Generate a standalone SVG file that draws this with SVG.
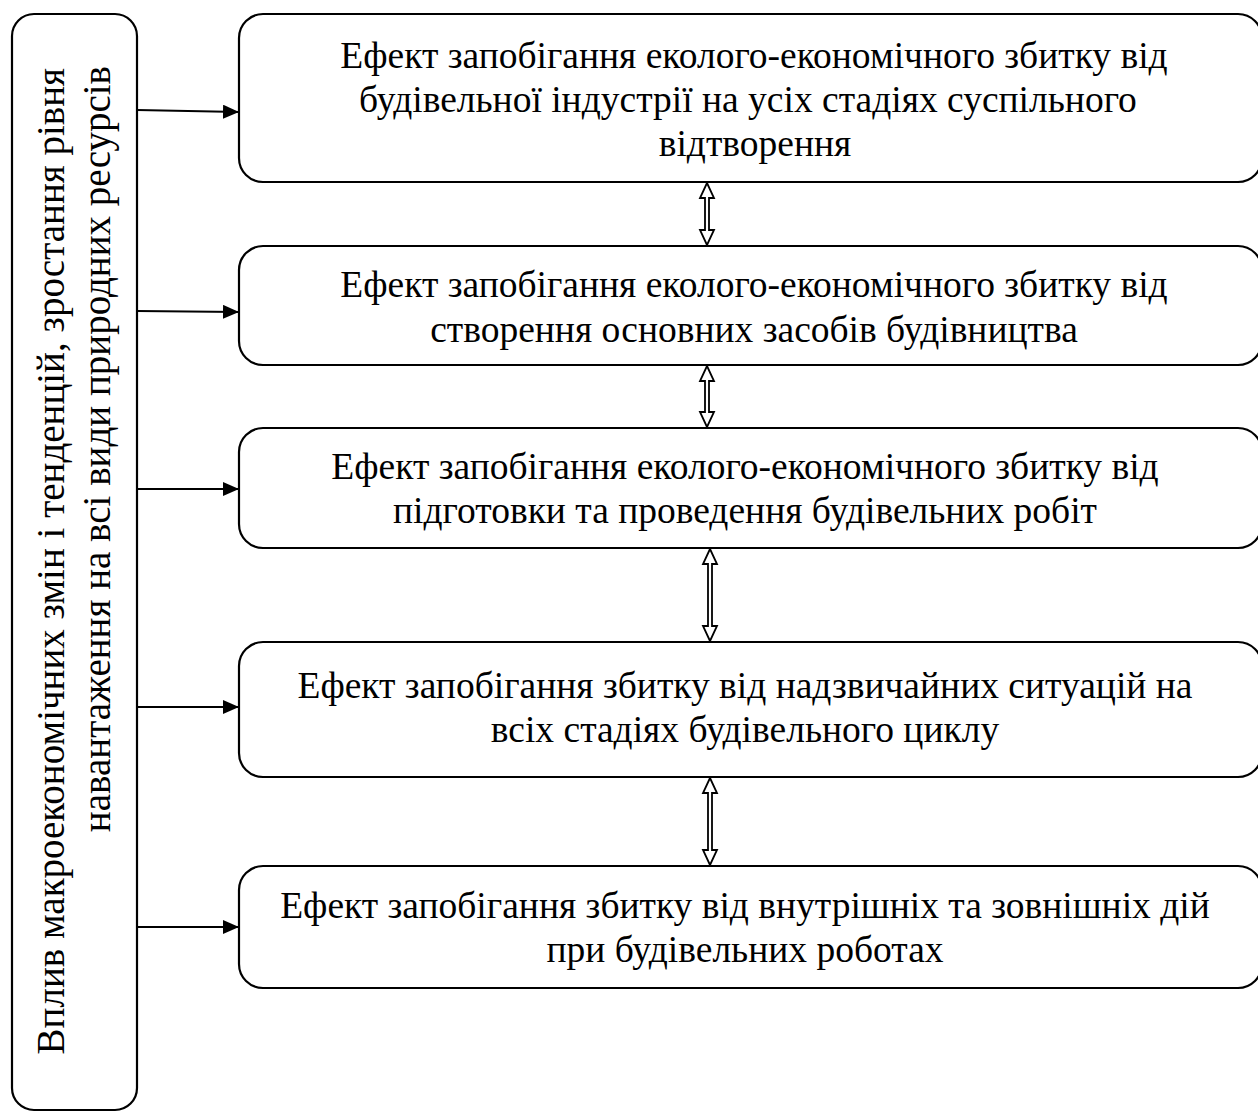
<svg xmlns="http://www.w3.org/2000/svg" width="1258" height="1115" viewBox="0 0 1258 1115">
  <style>
    .box { fill: #ffffff; stroke: #000000; stroke-width: 2.2; }
    .lbl { font-family: "Liberation Serif", "Times New Roman", serif; font-size: 37.5px; fill: #000000; text-anchor: middle; }
    .vlbl { font-family: "Liberation Serif", "Times New Roman", serif; font-size: 39px; fill: #000000; text-anchor: end; }
    .link { stroke: #000000; stroke-width: 2; fill: none; }
    .dbl { fill: #ffffff; stroke: #000000; stroke-width: 1.8; stroke-linejoin: miter; }
  </style>
  <defs>
    <marker id="head" viewBox="0 0 16 14" refX="16" refY="7" markerWidth="16" markerHeight="14" markerUnits="userSpaceOnUse" orient="auto">
      <path d="M0,0 L16,7 L0,14 Z" fill="#000000"/>
    </marker>
  </defs>

  <rect width="1258" height="1115" fill="#ffffff"/>

  <!-- left vertical block, lines set flush to the top edge -->
  <g id="macro">
    <rect class="box" x="12" y="14" width="125" height="1096" rx="22" ry="22"/>
    <text class="vlbl" transform="translate(64,68) rotate(-90)">Вплив макроекономічних змін і тенденцій, зростання рівня</text>
    <text class="vlbl" transform="translate(110,66) rotate(-90)">навантаження на всі види природних ресурсів</text>
  </g>

  <g id="effect1">
    <rect class="box" x="239" y="14" width="1023" height="168" rx="24" ry="24"/>
    <text class="lbl" x="754" y="68">Ефект запобігання еколого-економічного збитку від</text>
    <text class="lbl" x="748" y="112">будівельної індустрії на усіх стадіях суспільного</text>
    <text class="lbl" x="755" y="156">відтворення</text>
  </g>

  <g id="effect2">
    <rect class="box" x="239" y="246" width="1023" height="119" rx="24" ry="24"/>
    <text class="lbl" x="754" y="297">Ефект запобігання еколого-економічного збитку від</text>
    <text class="lbl" x="754" y="342">створення основних засобів будівництва</text>
  </g>

  <g id="effect3">
    <rect class="box" x="239" y="428" width="1023" height="120" rx="24" ry="24"/>
    <text class="lbl" x="745" y="479">Ефект запобігання еколого-економічного збитку від</text>
    <text class="lbl" x="745" y="523">підготовки та проведення будівельних робіт</text>
  </g>

  <g id="effect4">
    <rect class="box" x="239" y="642" width="1023" height="135" rx="24" ry="24"/>
    <text class="lbl" x="745" y="698">Ефект запобігання збитку від надзвичайних ситуацій на</text>
    <text class="lbl" x="745" y="742">всіх стадіях будівельного циклу</text>
  </g>

  <g id="effect5">
    <rect class="box" x="239" y="866" width="1023" height="122" rx="24" ry="24"/>
    <text class="lbl" x="745" y="918">Ефект запобігання збитку від внутрішніх та зовнішніх дій</text>
    <text class="lbl" x="745" y="962">при будівельних роботах</text>
  </g>

  <g id="connectors">
    <!-- arrows from the left block into each effect -->
    <line class="link" x1="137" y1="110" x2="239" y2="112" marker-end="url(#head)"/>
    <line class="link" x1="137" y1="311" x2="239" y2="312" marker-end="url(#head)"/>
    <line class="link" x1="137" y1="489" x2="239" y2="489" marker-end="url(#head)"/>
    <line class="link" x1="137" y1="707" x2="239" y2="707" marker-end="url(#head)"/>
    <line class="link" x1="137" y1="927" x2="239" y2="927" marker-end="url(#head)"/>

    <!-- hollow two-way arrows between effects -->
    <path class="dbl" d="M707,183 L714,198 L709,198 L709,230 L714,230 L707,245 L700,230 L705,230 L705,198 L700,198 Z"/>
    <path class="dbl" d="M707,366 L714,381 L709,381 L709,412 L714,412 L707,427 L700,412 L705,412 L705,381 L700,381 Z"/>
    <path class="dbl" d="M710,549 L717,564 L712,564 L712,626 L717,626 L710,641 L703,626 L708,626 L708,564 L703,564 Z"/>
    <path class="dbl" d="M710,778 L717,793 L712,793 L712,850 L717,850 L710,865 L703,850 L708,850 L708,793 L703,793 Z"/>
  </g>
</svg>
